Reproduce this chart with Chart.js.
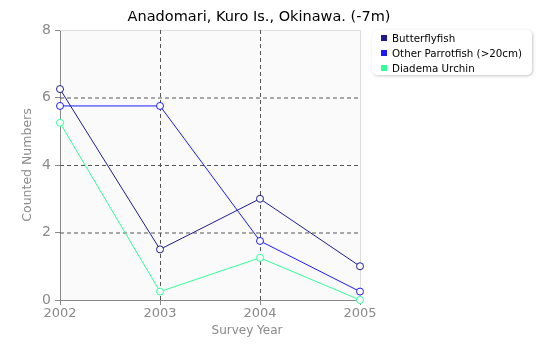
<!DOCTYPE html>
<html>
<head>
<meta charset="utf-8">
<script src="https://cdn.jsdelivr.net/npm/chart.js@4/dist/chart.umd.min.js"></script>
<style>
  html, body { margin: 0; padding: 0; background: #fff; }
  #wrap { position: relative; width: 540px; height: 345px; font-family: "DejaVu Sans", sans-serif; }
  #c { position: absolute; left: 0; top: 0; }
  #legend {
    position: absolute; left: 372px; top: 30px; width: 160px; height: 45px;
    background: #fff; border-radius: 5px;
    box-shadow: 1px 1px 3px rgba(0,0,0,0.22);
  }
  .item { position: absolute; left: 9px; height: 14px; line-height: 14px; font-size: 10.3px; color: #000; white-space: nowrap; }
  .sw { display: inline-block; width: 6px; height: 6px; margin-right: 5px; vertical-align: 1px; }
</style>
</head>
<body>
<div id="wrap">
  <canvas id="c" width="540" height="345"></canvas>
  <div id="legend"></div>
</div>
<script>
// Survey years and counts per species
const years = [2002, 2003, 2004, 2005];
const butterflyfish = [6.25, 1.5, 3, 1];
const parrotfish = [5.75, 5.75, 1.75, 0.25];
const diadema = [5.25, 0.25, 1.25, 0];
const yTicks = [0, 2, 4, 6, 8];

const seriesNames = ['Butterflyfish', 'Other Parrotfish (>20cm)', 'Diadema Urchin'];
const seriesColors = ['#1c1c8a', '#1a1aff', '#33ff99'];
const seriesData = [butterflyfish, parrotfish, diadema];

const chartTitle = 'Anadomari, Kuro Is., Okinawa. (-7m)';
const xTitle = 'Survey Year';
const yTitle = 'Counted Numbers';

// HTML legend
const legend = document.getElementById('legend');
seriesNames.forEach((name, i) => {
  const d = document.createElement('div');
  d.className = 'item';
  d.style.top = (1 + i * 15) + 'px';
  d.innerHTML = '<span class="sw" style="background:' + seriesColors[i] + '"></span>';
  d.appendChild(document.createTextNode(name));
  legend.appendChild(d);
});

// Plot background, dashed grid and texts
const decor = {
  id: 'decor',
  beforeDatasetsDraw(chart) {
    const { ctx, chartArea: a, scales: { x, y } } = chart;
    ctx.save();
    // light frame on top and right
    ctx.strokeStyle = '#dddddd';
    ctx.lineWidth = 1;
    ctx.beginPath();
    ctx.moveTo(a.left, a.top + 0.5);
    ctx.lineTo(a.right + 0.5, a.top + 0.5);
    ctx.lineTo(a.right + 0.5, a.bottom);
    ctx.stroke();
    // dashed interior grid
    ctx.strokeStyle = '#555555';
    ctx.setLineDash([4, 3]);
    years.slice(1, -1).forEach(v => {
      const px = x.getPixelForValue(v) + 0.5;
      ctx.beginPath(); ctx.moveTo(px, a.top); ctx.lineTo(px, a.bottom); ctx.stroke();
    });
    yTicks.slice(1, -1).forEach(v => {
      const py = y.getPixelForValue(v) + 0.5;
      ctx.beginPath(); ctx.moveTo(a.left, py); ctx.lineTo(a.right, py); ctx.stroke();
    });
    ctx.restore();
  },
  beforeDraw(chart) {
    const { ctx, chartArea: a } = chart;
    ctx.save();
    ctx.fillStyle = '#fafafa';
    ctx.fillRect(a.left, a.top, a.right - a.left, a.bottom - a.top);
    ctx.restore();
  },
  afterDraw(chart) {
    const { ctx, chartArea: a } = chart;
    ctx.save();
    ctx.fillStyle = '#000';
    ctx.font = '14.5px "DejaVu Sans"';
    ctx.textAlign = 'center';
    ctx.textBaseline = 'alphabetic';
    ctx.fillText(chartTitle, 259, 21);
    ctx.fillStyle = '#8a8a8a';
    ctx.font = '12px "DejaVu Sans"';
    ctx.fillText(xTitle, 247, 334);
    ctx.font = '12.5px "DejaVu Sans"';
    ctx.translate(31, (a.top + a.bottom) / 2);
    ctx.rotate(-Math.PI / 2);
    ctx.fillText(yTitle, 0, 0);
    ctx.restore();
  }
};

new Chart(document.getElementById('c'), {
  type: 'line',
  data: {
    datasets: seriesNames.map((name, i) => ({
      label: name,
      data: years.map((yr, j) => ({ x: yr, y: seriesData[i][j] })),
      borderColor: seriesColors[i],
      borderWidth: 1,
      pointRadius: 3.5,
      pointHoverRadius: 3.5,
      pointBackgroundColor: '#ffffff',
      pointBorderColor: seriesColors[i],
      pointBorderWidth: 1,
      tension: 0,
      clip: false
    }))
  },
  options: {
    responsive: false,
    animation: false,
    events: [],
    layout: { padding: { top: 30, right: 180, left: 0, bottom: 0 } },
    plugins: { legend: { display: false }, title: { display: false }, tooltip: { enabled: false } },
    scales: {
      x: {
        type: 'linear',
        min: 2002, max: 2005,
        afterFit(s) { s.height = 45; },
        afterBuildTicks(s) { s.ticks = years.map(v => ({ value: v })); },
        ticks: {
          color: '#8a8a8a', padding: 1,
          font: { family: 'DejaVu Sans', size: 13 },
          callback: v => String(v),
          maxRotation: 0
        },
        grid: { drawOnChartArea: false, drawTicks: true, tickLength: 5, tickColor: '#888888' },
        border: { color: '#888888', width: 1 }
      },
      y: {
        min: 0, max: 8,
        afterFit(s) { s.width = 60; },
        afterBuildTicks(s) { s.ticks = yTicks.map(v => ({ value: v })); },
        ticks: {
          color: '#8a8a8a', padding: 4,
          font: { family: 'DejaVu Sans', size: 14 }
        },
        grid: { drawOnChartArea: false, drawTicks: true, tickLength: 5, tickColor: '#888888' },
        border: { color: '#888888', width: 1 }
      }
    }
  },
  plugins: [decor]
});
</script>
</body>
</html>
